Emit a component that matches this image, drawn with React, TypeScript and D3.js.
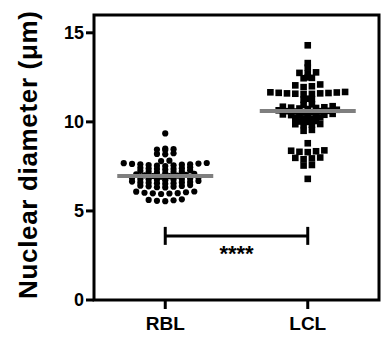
import * as d3 from 'd3';

const categories = ['RBL', 'LCL'];

const rblValues = [
  9.35,
  8.42, 8.45, 8.47, 8.5,
  8.18, 8.2, 8.24,
  7.8, 7.82,
  7.52, 7.54, 7.56, 7.58, 7.6, 7.62, 7.64, 7.66, 7.68, 7.69, 7.62,
  7.32, 7.35, 7.38, 7.4, 7.42, 7.45, 7.36,
  7.12, 7.15, 7.18, 7.2, 7.22, 7.25, 7.28,
  6.92, 6.95, 6.98, 7.0, 7.02, 7.05, 7.08, 6.96,
  6.72, 6.75, 6.78, 6.8, 6.82, 6.85, 6.88, 6.8, 6.76,
  6.52, 6.55, 6.58, 6.6, 6.62, 6.65, 6.68, 6.6, 6.56,
  6.32, 6.33, 6.36, 6.38, 6.4, 6.42, 6.45,
  5.95, 5.98, 6.0, 6.02, 6.05, 6.08, 6.09, 5.99,
  5.55, 5.57, 5.6, 5.62, 5.65,
];

const lclValues = [
  14.3,
  13.3,
  13.05,
  12.72, 12.75, 12.78,
  12.45, 12.47, 12.5,
  11.95, 12.0, 12.05, 12.1,
  11.55, 11.57, 11.58, 11.6, 11.6, 11.62, 11.63, 11.65, 11.66, 11.68,
  11.25, 11.28, 11.3,
  10.95, 10.98,
  10.72, 10.75, 10.78, 10.8, 10.82, 10.85, 10.88,
  10.52, 10.55, 10.58, 10.6, 10.62, 10.65, 10.68, 10.6,
  10.32, 10.35, 10.38, 10.4, 10.42, 10.45, 10.38,
  10.15, 10.2, 10.25, 10.18,
  10.0, 10.02, 10.05,
  9.82, 9.85, 9.87, 9.88,
  9.5, 9.55,
  8.8,
  8.3, 8.32, 8.35, 8.38, 8.4,
  7.9, 7.95, 7.98, 8.0,
  7.55, 7.58,
  6.8,
];

const yTicks = [0, 5, 10, 15];
const sigLevel = 3.6;
const sigLabel = '****';

const W = 385;
const H = 342;
const left = 94;
const right = 379;
const top = 15;
const bottom = 300;
const font = "'Liberation Sans', Arial, Helvetica, sans-serif";

// GraphPad-like scatter: bin by value, spread each row from the centre outward
function spread(values: number[], bin: number, step: number) {
  const groups = d3.group(values, (v) => Math.round(v / bin));
  const out: { v: number; dx: number }[] = [];
  groups.forEach((vals) => {
    const sorted = [...vals].sort((a, b) => a - b);
    const n = sorted.length;
    const slots = d3.range(n).map((i) => i - (n - 1) / 2);
    slots.sort((a, b) => Math.abs(a) - Math.abs(b) || a - b);
    sorted.forEach((v, i) => out.push({ v, dx: slots[i] * step }));
  });
  return out;
}

export default function App() {
  const x = d3.scalePoint().domain(categories).range([left, right]).padding(0.5);
  const y = d3.scaleLinear().domain([0, 16]).range([bottom, top]);

  const rbl = spread(rblValues, 0.2, 8.3);
  const lcl = spread(lclValues, 0.2, 8.3);
  const xr = x('RBL') ?? 0;
  const xl = x('LCL') ?? 0;
  const centres = [
    { c: xr, m: d3.median(rblValues) ?? 0 },
    { c: xl, m: d3.median(lclValues) ?? 0 },
  ];
  const ys = y(sigLevel);

  return (
    <svg width={W} height={H} style={{ position: 'absolute', left: 0, top: 0 }} fontFamily={font}>
      <rect width={W} height={H} fill="#fff" />

      {rbl.map((d, i) => (
        <circle key={'r' + i} cx={xr + d.dx} cy={y(d.v)} r={3.1} fill="#000" />
      ))}
      {lcl.map((d, i) => (
        <rect key={'l' + i} x={xl + d.dx - 3.3} y={y(d.v) - 3.3} width={6.6} height={6.6} fill="#000" />
      ))}

      {centres.map((d, i) => (
        <line key={'m' + i} x1={d.c - 48} x2={d.c + 48} y1={y(d.m)} y2={y(d.m)} stroke="#7f7f7f" strokeWidth={4} />
      ))}

      <rect x={left} y={top} width={right - left} height={bottom - top} fill="none" stroke="#000" strokeWidth={3} />

      {yTicks.map((t) => (
        <g key={t}>
          <line x1={left - 8} x2={left} y1={y(t)} y2={y(t)} stroke="#000" strokeWidth={3} />
          <text x={left - 10} y={y(t)} dy="0.36em" textAnchor="end" fontSize={18} fontWeight="bold">
            {t}
          </text>
        </g>
      ))}

      {categories.map((c) => (
        <g key={c}>
          <line x1={x(c)} x2={x(c)} y1={bottom} y2={bottom + 9} stroke="#000" strokeWidth={3} />
          <text x={x(c)} y={bottom + 30} textAnchor="middle" fontSize={19} fontWeight="bold">
            {c}
          </text>
        </g>
      ))}

      <line x1={xr} x2={xl} y1={ys} y2={ys} stroke="#000" strokeWidth={3} />
      <line x1={xr} x2={xr} y1={ys - 9} y2={ys + 9} stroke="#000" strokeWidth={3} />
      <line x1={xl} x2={xl} y1={ys - 9} y2={ys + 9} stroke="#000" strokeWidth={3} />
      <text x={(xr + xl) / 2} y={ys + 25} textAnchor="middle" fontSize={22} fontWeight="bold">
        {sigLabel}
      </text>

      <text
        transform={`translate(37, 155) rotate(-90)`}
        textAnchor="middle"
        fontSize={26}
        fontWeight="bold"
        textLength={288}
        lengthAdjust="spacing"
      >
        Nuclear diameter (μm)
      </text>
    </svg>
  );
}
